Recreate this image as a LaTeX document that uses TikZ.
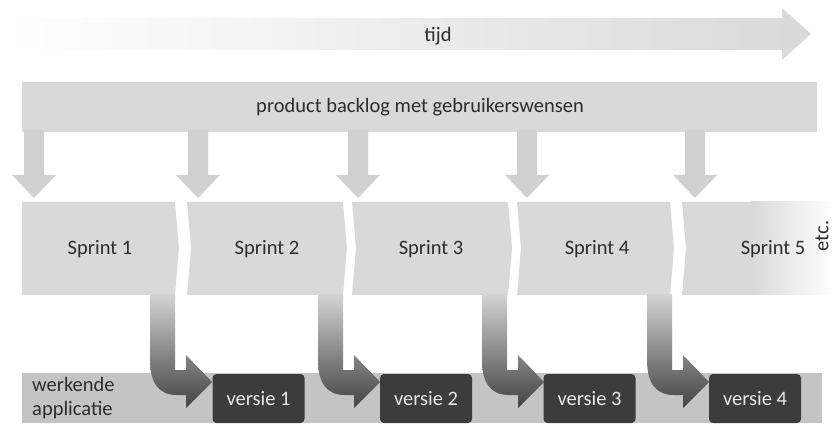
\documentclass[tikz,border=0pt]{standalone}
\usepackage{fontspec}
\setmainfont{Carlito}
\definecolor{boxgray}{RGB}{217,217,217}
\definecolor{arrgray}{RGB}{208,208,208}
\definecolor{bandgray}{RGB}{196,196,196}
\definecolor{vboxc}{RGB}{60,60,60}
\definecolor{txt}{RGB}{45,45,45}
\definecolor{vtxt}{RGB}{232,232,232}
\definecolor{elbtop}{RGB}{212,212,212}
\definecolor{elbmid}{RGB}{140,140,140}
\definecolor{elbbot}{RGB}{66,66,66}
\begin{document}
\begin{tikzpicture}[x=1pt,y=-1pt,
  font=\fontsize{20.5}{25}\selectfont,
  lbl/.style={text=txt, inner sep=0pt},
  versiebox/.style={fill=vboxc, text=vtxt, rounded corners=4pt, minimum width=92pt, minimum height=49pt, inner sep=0pt},
  downarr/.style={fill=arrgray},
  elbow/.style={top color=elbtop, middle color=elbmid, bottom color=elbbot}]
\useasboundingbox (0,0) rectangle (837,427);
% time arrow
\shade[left color=white, right color=boxgray]
  (10,18) -- (782,18) -- (782,8) -- (811,34) -- (782,60) -- (782,50) -- (10,50) -- cycle;
\node[lbl] (tijd) at (438,36) {tijd};
% backlog band
\fill[boxgray] (22,82) rectangle (817,132);
\node[lbl] (backlog) at (420,107) {product backlog met gebruikerswensen};
% down arrows
\foreach \c in {34,198,358,527,695} {
  \fill[downarr] ({\c-10},130) -- ({\c+10},130) -- ({\c+10},175) -- ({\c+22},175)
    -- (\c,198) -- ({\c-22},175) -- ({\c-10},175) -- cycle;
}
% sprint boxes
\fill[boxgray] (22,202) -- (175,202) -- (179,248) -- (175,295) -- (22,295) -- cycle;
\foreach \l/\r in {187/343,352/508,517/670} {
  \fill[boxgray] (\l,202) -- (\r,202) -- ({\r+4},248) -- (\r,295) -- (\l,295) -- ({\l+4},248) -- cycle;
}
\fill[boxgray] (682,202) -- (752,202) -- (752,295) -- (682,295) -- (686,248) -- cycle;
\shade[left color=boxgray, right color=white] (751,202) rectangle (834,295);
\node[lbl] (s1) at (100,249) {Sprint 1};
\node[lbl] (s2) at (267,249) {Sprint 2};
\node[lbl] (s3) at (431,249) {Sprint 3};
\node[lbl] (s4) at (597,249) {Sprint 4};
\node[lbl] (s5) at (773,249) {Sprint 5};
\node[lbl, rotate=90] (etc) at (822,236) {etc.};
% werkende applicatie band
\fill[bandgray] (22,373) rectangle (822,423);
\node[lbl, align=left, anchor=west, font=\fontsize{20.5}{24.5}\selectfont] (werk) at (32,398) {werkende\\applicatie};
% elbow arrows
\foreach \L in {150,318,482,647} {
  \shade[elbow] (\L,294) -- (\L,360) .. controls (\L,382) and ({\L+8},395) .. ({\L+27},395)
    -- ({\L+36},395) -- ({\L+36},408) -- ({\L+62},382) -- ({\L+36},355) -- ({\L+36},370)
    -- ({\L+25},370) -- ({\L+25},294) -- cycle;
}
% versie boxes
\node[versiebox] (v1) at (258.5,398.5) {versie 1};
\node[versiebox] (v2) at (426,398.5) {versie 2};
\node[versiebox] (v3) at (589.5,398.5) {versie 3};
\node[versiebox] (v4) at (755,398.5) {versie 4};
\end{tikzpicture}
\end{document}
